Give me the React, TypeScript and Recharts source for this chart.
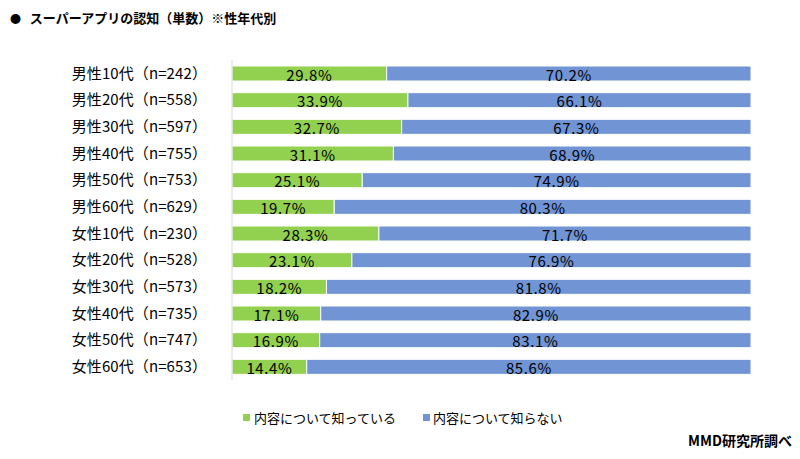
import { Bar, BarChart, LabelList, XAxis, YAxis } from "recharts";

const categories = [
  "男性10代（n=242）",
  "男性20代（n=558）",
  "男性30代（n=597）",
  "男性40代（n=755）",
  "男性50代（n=753）",
  "男性60代（n=629）",
  "女性10代（n=230）",
  "女性20代（n=528）",
  "女性30代（n=573）",
  "女性40代（n=735）",
  "女性50代（n=747）",
  "女性60代（n=653）",
];
const known = [29.8, 33.9, 32.7, 31.1, 25.1, 19.7, 28.3, 23.1, 18.2, 17.1, 16.9, 14.4];
const unknown = [70.2, 66.1, 67.3, 68.9, 74.9, 80.3, 71.7, 76.9, 81.8, 82.9, 83.1, 85.6];

const data = categories.map((name, i) => ({ name, known: known[i], unknown: unknown[i] }));

const font = '"Noto Sans CJK JP", "Noto Sans", sans-serif';
const GREEN = "#92D050";
const BLUE = "#7094D4";

const fmt = (v: any) => `${Number(v).toFixed(1)}%`;

export default function App() {
  return (
    <div style={{ position: "relative", width: 800, height: 459, background: "#fff", fontFamily: font }}>
      <style>{"body{margin:0}"}</style>
      <div style={{ position: "absolute", left: 10, top: 8, fontSize: 13, fontWeight: 700, color: "#000" }}>
        <span style={{ fontSize: 11 }}>●</span>&nbsp;&nbsp;&nbsp;スーパーアプリの認知（単数）※性年代別
      </div>
      <BarChart
        width={800}
        height={459}
        data={data}
        layout="vertical"
        margin={{ top: 60, right: 49, bottom: 79, left: 0 }}
        barSize={15}
      >
        <XAxis type="number" domain={[0, 100]} hide />
        <YAxis
          type="category"
          dataKey="name"
          width={232}
          tickLine={false}
          tickSize={0}
          tickMargin={25}
          axisLine={{ stroke: "#D9D9D9" }}
          tick={{ fill: "#000", fontSize: 15, fontFamily: font, letterSpacing: 0.1 }}
        />
        <Bar dataKey="known" stackId="a" fill={GREEN} stroke="#fff" strokeWidth={1} isAnimationActive={false}>
          <LabelList dataKey="known" position="center" formatter={fmt} fill="#000" fontSize={15} fontFamily={font} letterSpacing={0.6} dy={2} />
        </Bar>
        <Bar dataKey="unknown" stackId="a" fill={BLUE} stroke="#fff" strokeWidth={1} isAnimationActive={false}>
          <LabelList dataKey="unknown" position="center" formatter={fmt} fill="#000" fontSize={15} fontFamily={font} letterSpacing={0.6} dy={2} />
        </Bar>
      </BarChart>
      <div style={{ position: "absolute", left: 243, top: 408, display: "flex", alignItems: "center", fontSize: 13, color: "#000" }}>
        <span style={{ width: 7, height: 7, background: GREEN, marginRight: 4 }} />
        <span>内容について知っている</span>
        <span style={{ width: 7, height: 7, background: BLUE, marginLeft: 27, marginRight: 3 }} />
        <span>内容について知らない</span>
      </div>
      <div style={{ position: "absolute", right: 8, top: 430, fontSize: 14, fontWeight: 700, color: "#000" }}>
        MMD研究所調べ
      </div>
    </div>
  );
}
